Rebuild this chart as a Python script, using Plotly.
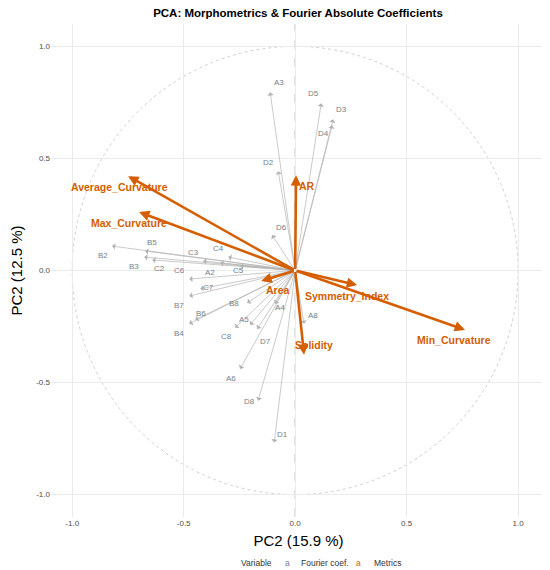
import plotly.graph_objects as go

# ---------------- data ----------------
fourier_names = ["A2", "A3", "A4", "A5", "A6", "A8",
                 "B2", "B3", "B4", "B5", "B6", "B7", "B8",
                 "C2", "C3", "C4", "C5", "C6", "C7", "C8",
                 "D1", "D2", "D3", "D4", "D5", "D6", "D7", "D8"]
fourier_pc1 = [-0.336, -0.112, -0.090, -0.202, -0.247, 0.040,
               -0.821, -0.677, -0.475, -0.673, -0.448, -0.475, -0.215,
               -0.641, -0.413, -0.300, -0.247, -0.475, -0.426, -0.269,
               -0.094, -0.076, 0.170, 0.166, 0.117, -0.103, -0.170, -0.166]
fourier_pc2 = [0.033, 0.795, -0.149, -0.243, -0.439, -0.238,
               0.109, 0.060, -0.238, 0.087, -0.220, -0.114, -0.145,
               0.047, 0.042, 0.060, 0.020, -0.038, -0.082, -0.256,
               -0.768, 0.443, 0.675, 0.648, 0.746, 0.158, -0.261, -0.581]
fourier_lab_x = [-0.381, -0.072, -0.067, -0.229, -0.287, 0.081,
                 -0.861, -0.722, -0.520, -0.641, -0.422, -0.520, -0.274,
                 -0.610, -0.457, -0.345, -0.256, -0.520, -0.390, -0.309,
                 -0.058, -0.121, 0.206, 0.126, 0.081, -0.063, -0.135, -0.206]
fourier_lab_y = [-0.007, 0.840, -0.167, -0.220, -0.483, -0.203,
                 0.069, 0.020, -0.283, 0.127, -0.194, -0.158, -0.149,
                 0.007, 0.082, 0.100, -0.002, -0.002, -0.078, -0.296,
                 -0.733, 0.483, 0.719, 0.612, 0.791, 0.194, -0.318, -0.586]

metric_names = ["Average_Curvature", "Max_Curvature", "AR", "Area",
                "Symmetry_Index", "Min_Curvature", "Solidity"]
metric_pc1 = [-0.749, -0.700, 0.004, -0.152, 0.278, 0.762, 0.040]
metric_pc2 = [0.421, 0.261, 0.425, -0.047, -0.065, -0.265, -0.376]
metric_lab_x = [-0.789, -0.744, 0.052, -0.076, 0.233, 0.713, 0.085]
metric_lab_y = [0.372, 0.212, 0.376, -0.087, -0.114, -0.310, -0.332]

legend_groups = ["Fourier coef.", "Metrics"]

x_ticks = [-1.0, -0.5, 0.0, 0.5, 1.0]
y_ticks = [-1.0, -0.5, 0.0, 0.5, 1.0]

GRAY_ARROW = "#b3b3b3"
GRAY_TEXT = "#75808c"
ORANGE = "#D55E00"
FONT = "Liberation Sans"

fig = go.Figure()
# invisible trace to anchor axes
fig.add_trace(go.Scatter(x=[None], y=[None], mode="markers", showlegend=False))

annotations = []
for x, y in zip(fourier_pc1, fourier_pc2):
    annotations.append(dict(x=x, y=y, ax=0, ay=0, xref="x", yref="y",
                            axref="x", ayref="y", text="", showarrow=True,
                            arrowhead=1, arrowsize=1.5, arrowwidth=0.7,
                            arrowcolor=GRAY_ARROW, standoff=0, startstandoff=0))
for n, x, y in zip(fourier_names, fourier_lab_x, fourier_lab_y):
    annotations.append(dict(x=x, y=y, xref="x", yref="y", text=n,
                            showarrow=False,
                            font=dict(family=FONT, size=8, color=GRAY_TEXT)))
for x, y in zip(metric_pc1, metric_pc2):
    annotations.append(dict(x=x, y=y, ax=0, ay=0, xref="x", yref="y",
                            axref="x", ayref="y", text="", showarrow=True,
                            arrowhead=2, arrowsize=0.8, arrowwidth=2.6,
                            arrowcolor=ORANGE, standoff=0, startstandoff=0))
for n, x, y in zip(metric_names, metric_lab_x, metric_lab_y):
    annotations.append(dict(x=x, y=y, xref="x", yref="y", text="<b>%s</b>" % n,
                            showarrow=False,
                            font=dict(family=FONT, size=10.5, color=ORANGE)))

# legend built like ggplot's text-key legend
legend_items = [
    ("Variable", 0.380, "#333333"),
    ("a", 0.468, GRAY_TEXT),
    (legend_groups[0], 0.501, "#333333"),
    ("a", 0.612, ORANGE),
    (legend_groups[1], 0.648, "#333333"),
]
for txt, xp, col in legend_items:
    annotations.append(dict(x=xp, y=-0.093, xref="paper", yref="paper",
                            text=txt, showarrow=False, xanchor="left",
                            yanchor="middle",
                            font=dict(family=FONT, size=8.5, color=col)))

shapes = [
    dict(type="circle", xref="x", yref="y", x0=-1, y0=-1, x1=1, y1=1,
         line=dict(color="#cfcfcf", width=1, dash="dot"), layer="below"),
    dict(type="line", xref="paper", yref="y", x0=0, x1=1, y0=0, y1=0,
         line=dict(color="#a6a6a6", width=1, dash="dash"), layer="below"),
    dict(type="line", xref="x", yref="paper", x0=0, x1=0, y0=0, y1=1,
         line=dict(color="#a6a6a6", width=1, dash="dash"), layer="below"),
]

fig.update_layout(
    width=542, height=562,
    margin=dict(l=43, r=4, t=16, b=53, autoexpand=False),
    paper_bgcolor="white", plot_bgcolor="white",
    font=dict(family=FONT, color="#333333"),
    title=dict(text="<b>PCA: Morphometrics & Fourier Absolute Coefficients</b>",
               x=0.535, xanchor="center", y=0.991, yanchor="middle",
               font=dict(family=FONT, size=11.5, color="black")),
    xaxis=dict(range=[-1.095, 1.125], tickvals=x_ticks,
               ticktext=["%.1f" % v for v in x_ticks],
               showgrid=True, gridcolor="#ebebeb", gridwidth=1,
               zeroline=False, showline=False, ticks="", automargin=False,
               tickfont=dict(family=FONT, size=8, color="#4d4d4d"),
               title=dict(text="PC2 (15.9 %)", standoff=8,
                          font=dict(family=FONT, size=15, color="black"))),
    yaxis=dict(range=[-1.1, 1.1], tickvals=y_ticks,
               ticktext=["%.1f" % v for v in y_ticks],
               showgrid=True, gridcolor="#ebebeb", gridwidth=1,
               zeroline=False, showline=False, ticks="", automargin=False,
               tickfont=dict(family=FONT, size=8, color="#4d4d4d"),
               title=dict(text="PC2 (12.5 %)", standoff=13,
                          font=dict(family=FONT, size=15, color="black"))),
    showlegend=False,
    annotations=annotations,
    shapes=shapes,
)

fig.write_html("out.html")
